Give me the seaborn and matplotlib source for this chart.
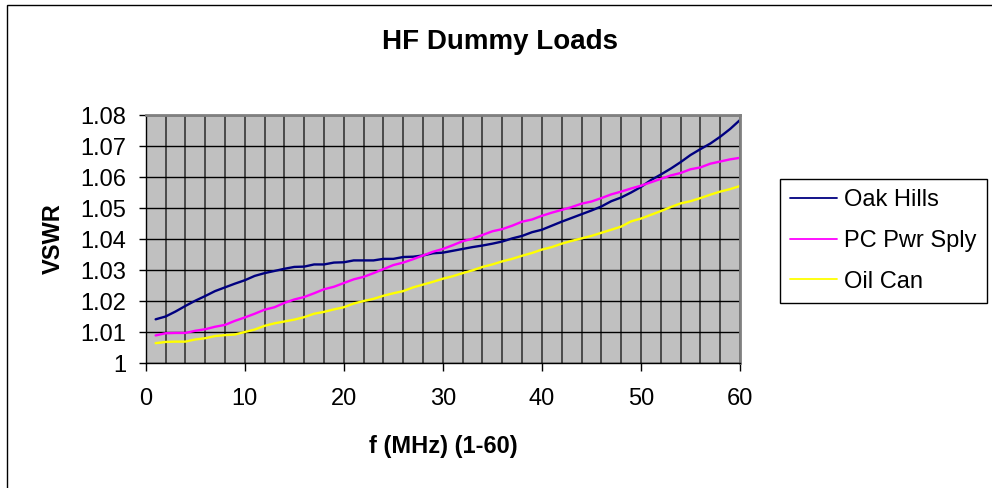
import numpy as np
import pandas as pd
import seaborn as sns
import matplotlib.pyplot as plt
from matplotlib.patches import Rectangle
from matplotlib.ticker import FuncFormatter

# Данные (f = 1..60 МГц)
freq = list(range(1, 61))

oak_hills = [
    1.0141, 1.0150, 1.0166, 1.0184, 1.0201, 1.0216, 1.0232, 1.0244, 1.0256, 1.0267,
    1.0281, 1.0290, 1.0297, 1.0304, 1.0310, 1.0311, 1.0318, 1.0318, 1.0324, 1.0325,
    1.0331, 1.0331, 1.0331, 1.0336, 1.0336, 1.0342, 1.0343, 1.0347, 1.0354, 1.0356,
    1.0362, 1.0368, 1.0374, 1.0379, 1.0385, 1.0392, 1.0402, 1.0410, 1.0422, 1.0430,
    1.0443, 1.0456, 1.0468, 1.0480, 1.0492, 1.0505, 1.0522, 1.0534, 1.0550, 1.0568,
    1.0590, 1.0608, 1.0627, 1.0648, 1.0671, 1.0690, 1.0708, 1.0730, 1.0755, 1.0784,
]

pc_pwr_sply = [
    1.0089, 1.0096, 1.0097, 1.0097, 1.0104, 1.0109, 1.0117, 1.0123, 1.0136, 1.0147,
    1.0159, 1.0172, 1.0180, 1.0194, 1.0205, 1.0213, 1.0225, 1.0238, 1.0246, 1.0258,
    1.0270, 1.0278, 1.0290, 1.0303, 1.0316, 1.0324, 1.0335, 1.0347, 1.0359, 1.0368,
    1.0380, 1.0393, 1.0401, 1.0413, 1.0425, 1.0432, 1.0443, 1.0456, 1.0463, 1.0475,
    1.0485, 1.0494, 1.0503, 1.0514, 1.0521, 1.0532, 1.0544, 1.0553, 1.0563, 1.0572,
    1.0583, 1.0594, 1.0605, 1.0613, 1.0625, 1.0631, 1.0643, 1.0650, 1.0657, 1.0662,
]

oil_can = [
    1.0064, 1.0068, 1.0069, 1.0069, 1.0076, 1.0080, 1.0087, 1.0090, 1.0092, 1.0100,
    1.0108, 1.0120, 1.0128, 1.0134, 1.0140, 1.0148, 1.0159, 1.0165, 1.0173, 1.0180,
    1.0192, 1.0200, 1.0207, 1.0217, 1.0225, 1.0232, 1.0244, 1.0253, 1.0262, 1.0272,
    1.0280, 1.0290, 1.0299, 1.0310, 1.0318, 1.0328, 1.0336, 1.0346, 1.0355, 1.0366,
    1.0374, 1.0385, 1.0394, 1.0402, 1.0410, 1.0420, 1.0430, 1.0440, 1.0457, 1.0466,
    1.0478, 1.0490, 1.0503, 1.0515, 1.0522, 1.0532, 1.0543, 1.0553, 1.0561, 1.0571,
]

series_names = ['Oak Hills', 'PC Pwr Sply', 'Oil Can']
series_colors = ['#000080', '#FF00FF', '#FFFF00']

df = pd.DataFrame({
    'f': freq * 3,
    'VSWR': oak_hills + pc_pwr_sply + oil_can,
    'series': [n for n in series_names for _ in freq],
})

sns.set_theme(style='white')
plt.rcParams['font.family'] = ['Liberation Sans', 'DejaVu Sans']
plt.rcParams['text.color'] = 'black'
plt.rcParams['axes.labelcolor'] = 'black'
plt.rcParams['xtick.color'] = 'black'
plt.rcParams['ytick.color'] = 'black'

fig = plt.figure(figsize=(9.92, 4.88), dpi=100)
ax = fig.add_axes([0.1469, 0.2561, 0.746 - 0.1469, 0.7643 - 0.2561])

sns.lineplot(data=df, x='f', y='VSWR', hue='series', hue_order=series_names,
             palette=series_colors, linewidth=1.7, ax=ax, legend=True)

ax.set_facecolor('#C0C0C0')
ax.set_xlim(0, 60)
ax.set_ylim(1.0, 1.08)

# Сетка: вертикальные линии через 2 МГц, горизонтальные через 0.01
ax.set_xticks(range(0, 61, 10))
ax.set_xticks(range(0, 61, 2), minor=True)
ax.set_yticks(np.round(np.arange(1.0, 1.0801, 0.01), 2))
ax.xaxis.grid(True, which='both', color='#2a2a2a', linewidth=1.1)
ax.yaxis.grid(True, which='major', color='black', linewidth=1.0)
ax.set_axisbelow(True)

ax.yaxis.set_major_formatter(FuncFormatter(lambda v, p: f'{v:g}'))
ax.tick_params(axis='x', which='major', direction='out', length=6, width=1,
               color='black', labelcolor='black', labelsize=17, pad=12, bottom=True)
ax.tick_params(axis='x', which='minor', length=0)
ax.tick_params(axis='y', which='major', direction='out', length=5, width=1,
               color='black', labelcolor='black', labelsize=17, pad=9, left=True)

for side in ['left', 'bottom']:
    ax.spines[side].set_color('black')
    ax.spines[side].set_linewidth(1.0)
for side in ['top', 'right']:
    ax.spines[side].set_color('#808080')
    ax.spines[side].set_linewidth(2.0)

ax.set_xlabel('f (MHz) (1-60)', fontsize=17, fontweight='bold', labelpad=18,
              color='black')
ax.set_ylabel('VSWR', fontsize=17, fontweight='bold', labelpad=11, color='black')

fig.text(0.504, 0.913, 'HF Dummy Loads', ha='center', va='center',
         fontsize=20, fontweight='bold', color='black')

leg = ax.legend(loc='upper left', bbox_to_anchor=(780 / 992, 1 - 179 / 488),
                bbox_transform=fig.transFigure, fontsize=17, frameon=True,
                fancybox=False, edgecolor='black', framealpha=1,
                handlelength=2.0, handletextpad=0.3, labelspacing=0.8,
                borderpad=0.42, borderaxespad=0)
leg.get_frame().set_linewidth(1.0)
for line in leg.get_lines():
    line.set_linewidth(1.3)
for t in leg.get_texts():
    t.set_color('black')

# Рамка всей диаграммы
fig.patches.append(Rectangle((7 / 992, -0.1), 1.1, 1 - 5 / 488 + 0.1,
                             transform=fig.transFigure, fill=False,
                             edgecolor='black', linewidth=1.0))

fig.savefig('out.png', dpi=100, facecolor='white')
